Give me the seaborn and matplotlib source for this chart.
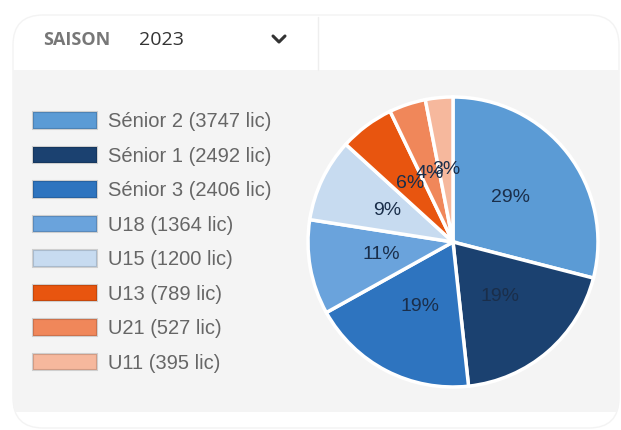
import matplotlib
matplotlib.use("Agg")
import matplotlib.pyplot as plt
import matplotlib.patches as mpatches
from matplotlib.lines import Line2D
import seaborn as sns

categories = ["Sénior 2", "Sénior 1", "Sénior 3", "U18", "U15", "U13", "U21", "U11"]
licences = [3747, 2492, 2406, 1364, 1200, 789, 527, 395]
colors = ["#5b9bd5", "#1b4170", "#2e74bf", "#6aa3dc", "#c7dbf0", "#e8550f", "#f0875a", "#f6b89d"]
season = "2023"

sns.set_theme(style="white")
plt.rcParams["font.family"] = ["Liberation Sans", "DejaVu Sans"]

W, H = 621, 430
fig = plt.figure(figsize=(W / 100, H / 100), dpi=100)
fig.patch.set_facecolor("white")

# card background, pixel coords
bg = fig.add_axes([0, 0, 1, 1], zorder=0)
bg.set_xlim(0, W)
bg.set_ylim(H, 0)
bg.axis("off")

card = mpatches.FancyBboxPatch((13, 15), 606, 413, boxstyle="round,pad=0,rounding_size=30",
                               facecolor="white", edgecolor="#f3f3f3", lw=1)
bg.add_patch(card)
panel = mpatches.Rectangle((13, 70), 606, 342, facecolor="#f4f4f4", edgecolor="none")
bg.add_patch(panel)
panel.set_clip_path(card)
bg.plot([318, 318], [17, 70], color="#eeeeee", lw=1)
bg.add_line(Line2D([273, 279, 285], [36, 42, 36], color="#333333", lw=2.2,
                   solid_capstyle="round", solid_joinstyle="round"))
bg.text(43, 40, "SAISON", fontsize=13, color="#777777", fontweight="bold",
        family="Open Sans", va="center", ha="left")
bg.text(139, 40, season, fontsize=14, color="#333333", family="Open Sans",
        va="center", ha="left")

# pie
ax = fig.add_axes([308 / W, (H - 387) / H, 290 / W, 290 / H], zorder=2)
wedges, texts, autotexts = ax.pie(
    licences, colors=colors, startangle=90, counterclock=False,
    autopct="%1.0f%%", pctdistance=0.5,
    wedgeprops=dict(edgecolor="white", linewidth=2.5),
    textprops=dict(color="#1a2e4a", fontsize=14),
)
ax.set_xlim(-1.0, 1.0)
ax.set_ylim(-1.0, 1.0)
ax.set_aspect("equal")
ax.patch.set_visible(False)

# legend
handles = [mpatches.Patch(facecolor=c, edgecolor=(0, 0, 0, 0.15), lw=1.5) for c in colors]
labels = [f"{c} ({n} lic)" for c, n in zip(categories, licences)]
fig.legend(handles, labels, loc="upper left", bbox_to_anchor=(33 / W, 1 - 112 / H),
           frameon=False, fontsize=14.5, labelcolor="#666666",
           handlelength=3.2, handleheight=0.9, handletextpad=0.5,
           labelspacing=0.755, borderpad=0, borderaxespad=0)

fig.savefig("out.png", dpi=100)
